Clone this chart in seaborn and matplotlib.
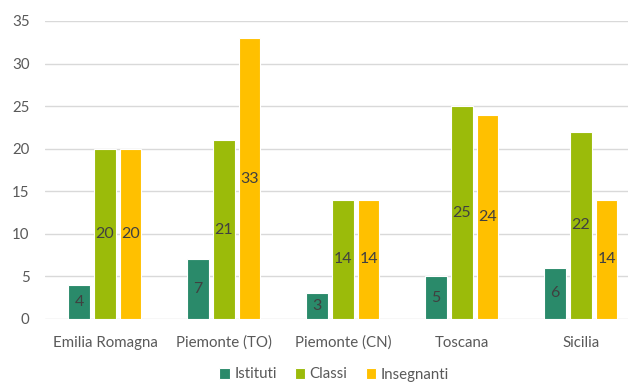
import matplotlib
matplotlib.use("Agg")
import matplotlib.pyplot as plt
import seaborn as sns
import pandas as pd

regions = ["Emilia Romagna", "Piemonte (TO)", "Piemonte (CN)", "Toscana", "Sicilia"]
istituti = [4, 7, 3, 5, 6]
classi = [20, 21, 14, 25, 22]
insegnanti = [20, 33, 14, 24, 14]
series_names = ["Istituti", "Classi", "Insegnanti"]
colors = ["#2A8A6A", "#9BBB0A", "#FFC000"]
y_ticks = [0, 5, 10, 15, 20, 25, 30, 35]

sns.set_style("white")
plt.rcParams["font.family"] = ["Lato", "DejaVu Sans"]

df = pd.DataFrame({
    "Regione": regions * 3,
    "Serie": [s for s in series_names for _ in regions],
    "Valore": istituti + classi + insegnanti,
})

fig = plt.figure(figsize=(6.28, 3.82), dpi=100)
ax = fig.add_axes([45 / 628, 1 - 319 / 382, (628 - 45) / 628, (319 - 21) / 382])

sns.barplot(data=df, x="Regione", y="Valore", hue="Serie", order=regions,
            hue_order=series_names, palette=colors, saturation=1,
            width=0.655, gap=0.19, edgecolor="white", linewidth=0.8,
            ax=ax, legend=True, zorder=3)

for container in ax.containers:
    ax.bar_label(container, label_type="center", color="#404040", fontsize=11.5)

ax.set_ylim(0, 35)
ax.set_yticks(y_ticks)
ax.set_xlim(-0.504, 4.395)
ax.yaxis.grid(True, color="#D9D9D9", linewidth=1, zorder=0)
ax.set_axisbelow(True)
for s in ax.spines.values():
    s.set_visible(False)
ax.tick_params(axis="both", length=0, labelcolor="#595959", labelsize=10.8)
ax.tick_params(axis="x", pad=12)
ax.tick_params(axis="y", pad=11)
ax.set_xlabel("")
ax.set_ylabel("")

handles, labels = ax.get_legend_handles_labels()
ax.get_legend().remove()
fig.legend(handles, labels, loc="center", bbox_to_anchor=(334 / 628, 1 - 374.5 / 382),
           ncol=3, frameon=False, fontsize=10.8, handlelength=0.7, handleheight=0.7,
           handletextpad=0.3, columnspacing=1.2, labelcolor="#595959",
           borderpad=0.2)

fig.savefig("out.png", dpi=100)
